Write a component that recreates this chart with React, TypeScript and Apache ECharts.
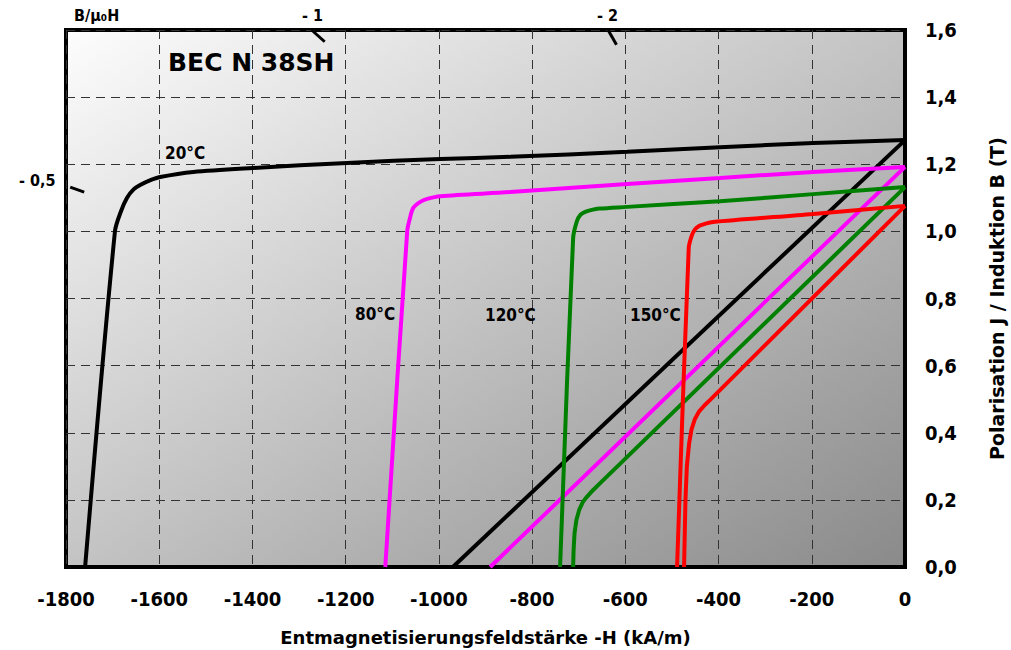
import React, { useEffect, useRef } from "react";
import * as echarts from "echarts";

// H in kA/m (negative), J / B in T
const xTicks = [-1800, -1600, -1400, -1200, -1000, -800, -600, -400, -200, 0];

const j20H = [-1759, -1695, -1682, -1669, -1655, -1641, -1620, -1598, -1527, -1399, -1197, -997, -847, -596, -397, -197, 0];
const j20J = [0, 1.0, 1.06, 1.10, 1.125, 1.138, 1.152, 1.162, 1.177, 1.189, 1.204, 1.216, 1.222, 1.237, 1.251, 1.263, 1.272];
const b20H = [-970, 0];
const b20B = [0, 1.272];

const j80H = [-1115, -1068, -1062, -1055, -1040, -1025, -997, -847, -596, -397, -197, 0];
const j80J = [0, 1.0, 1.04, 1.07, 1.088, 1.097, 1.105, 1.117, 1.141, 1.159, 1.177, 1.192];
const b80H = [-890, 0];
const b80B = [0, 1.192];

const j120H = [-740, -712, -704, -696, -686, -672, -656, -596, -397, -197, 0];
const j120J = [0, 0.98, 1.03, 1.05, 1.058, 1.064, 1.068, 1.073, 1.09, 1.111, 1.132];
const b120H = [-712, -711, -709, -705, -699, -691, -682, -670, -654, 0];
const b120B = [0, 0.05, 0.1, 0.14, 0.17, 0.194, 0.21, 0.228, 0.25, 1.132];

const j150H = [-489, -464, -458, -451, -442, -430, -412, -197, 0];
const j150J = [0, 0.95, 0.985, 1.005, 1.016, 1.022, 1.028, 1.052, 1.076];
const b150H = [-474, -471, -468, -463, -458, -451, -442, -430, -418, 0];
const b150B = [0, 0.2, 0.3, 0.37, 0.41, 0.44, 0.463, 0.482, 0.498, 1.076];

// permeance (B/µ0H) marker ticks
const ll1H = [-1273, -1245];
const ll1B = [1.6, 1.565];
const ll2H = [-637, -619];
const ll2B = [1.6, 1.556];
const ll05H = [-1791, -1761];
const ll05B = [1.132, 1.117];

const zip = (a: number[], b: number[]) => a.map((v, i) => [v, b[i]]);

const FONT = "DejaVu Sans Condensed";
const FONT_W = "DejaVu Sans";

export default function App() {
  const ref = useRef<HTMLDivElement>(null);
  useEffect(() => {
    if (!ref.current) return;
    const chart = echarts.init(ref.current, null, { renderer: "svg", width: 1011, height: 650 });
    const curve = (name: string, h: number[], v: number[], color: string, smooth: number | boolean) => ({
      name,
      type: "line",
      data: zip(h, v),
      symbol: "none",
      smooth,
      lineStyle: { color, width: 4 },
      z: 5,
    });
    const tick = (h: number[], v: number[]) => ({
      type: "line",
      data: zip(h, v),
      symbol: "none",
      lineStyle: { color: "#000", width: 3 },
      z: 6,
    });
    const txt = (text: string, x: number, y: number, size: number, family: string = FONT) => ({
      type: "text",
      x,
      y,
      z: 10,
      style: {
        text,
        fill: "#000",
        font: `bold ${size}px "${family}"`,
      },
    });
    chart.setOption({
      animation: false,
      backgroundColor: "#fff",
      textStyle: { fontFamily: FONT },
      grid: {
        left: 66,
        right: 106,
        top: 30,
        bottom: 83,
        outerBoundsMode: "none",
        containLabel: false,
        show: true,
        borderColor: "#000",
        borderWidth: 4,
        backgroundColor: new echarts.graphic.LinearGradient(0, 0, 1, 1, [
          { offset: 0, color: "#fdfdfd" },
          { offset: 1, color: "#8a8a8a" },
        ]),
      },
      xAxis: {
        type: "value",
        min: -1800,
        max: 0,
        interval: 200,
        axisLine: { show: true, lineStyle: { color: "#000", width: 4 } },
        axisTick: { show: false },
        axisLabel: {
          margin: 22,
          color: "#000",
          fontSize: 20,
          fontWeight: "bold",
          fontFamily: FONT,
          formatter: (v: number) => (xTicks.includes(v) ? String(v) : ""),
        },
        splitLine: { show: true, lineStyle: { color: "#333", width: 1, type: [9, 6] } },
        name: "Entmagnetisierungsfeldstärke -H (kA/m)",
        nameLocation: "middle",
        nameGap: 61,
        nameTextStyle: { color: "#000", fontSize: 18, fontWeight: "bold", fontFamily: FONT_W },
      },
      yAxis: {
        type: "value",
        position: "right",
        min: 0,
        max: 1.6,
        interval: 0.2,
        axisLine: { show: true, lineStyle: { color: "#000", width: 4 } },
        axisTick: { show: false },
        axisLabel: {
          margin: 20,
          color: "#000",
          fontSize: 20,
          fontWeight: "bold",
          fontFamily: FONT,
          formatter: (v: number) => v.toFixed(1).replace(".", ","),
        },
        splitLine: { show: true, lineStyle: { color: "#333", width: 1, type: [9, 6] } },
        name: "Polarisation J / Induktion B (T)",
        nameLocation: "middle",
        nameRotate: 90,
        nameGap: 82,
        nameTextStyle: { color: "#000", fontSize: 19, fontWeight: "bold", fontFamily: FONT_W },
      },
      series: [
        curve("J 20°C", j20H, j20J, "#000000", 0.3),
        curve("B 20°C", b20H, b20B, "#000000", false),
        curve("J 80°C", j80H, j80J, "#ff00ff", 0.3),
        curve("B 80°C", b80H, b80B, "#ff00ff", false),
        curve("J 120°C", j120H, j120J, "#008000", 0.3),
        curve("B 120°C", b120H, b120B, "#008000", false),
        curve("J 150°C", j150H, j150J, "#ff0000", 0.3),
        curve("B 150°C", b150H, b150B, "#ff0000", false),
        tick(ll1H, ll1B),
        tick(ll2H, ll2B),
        tick(ll05H, ll05B),
      ],
      graphic: [
        txt("B/μ₀H", 74, 7, 16),
        txt("- 1", 302, 7, 16),
        txt("- 2", 597, 7, 16),
        txt("- 0,5", 19, 172, 16),
        txt("BEC N 38SH", 168, 50, 25, FONT_W),
        txt("20°C", 165, 144, 17),
        txt("80°C", 355, 305, 17),
        txt("120°C", 485, 306, 17),
        txt("150°C", 630, 306, 17),
      ],
    });
    return () => chart.dispose();
  }, []);
  return (
    <div
      ref={ref}
      style={{ position: "fixed", left: 0, top: 0, width: 1011, height: 650 }}
    />
  );
}
